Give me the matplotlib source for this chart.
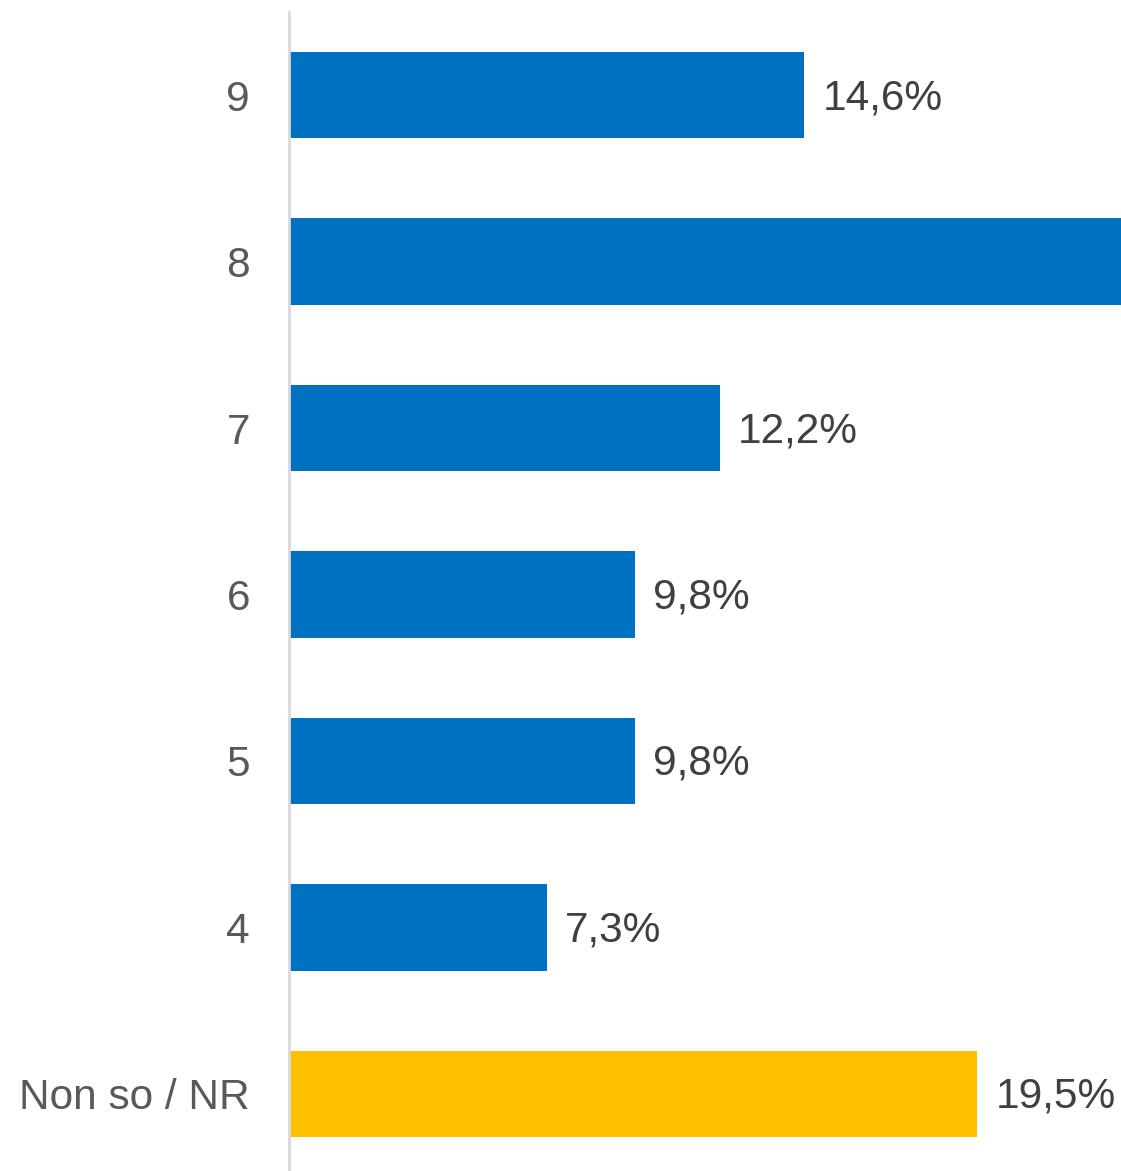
import matplotlib
matplotlib.use("Agg")
import matplotlib.pyplot as plt

categories = ["9", "8", "7", "6", "5", "4", "Non so / NR"]
values = [14.6, 26.8, 12.2, 9.8, 9.8, 7.3, 19.5]
labels = ["14,6%", "26,8%", "12,2%", "9,8%", "9,8%", "7,3%", "19,5%"]
colors = ["#0070C0"] * 6 + ["#FFC000"]

plt.rcParams['font.family'] = ['Liberation Sans', 'DejaVu Sans']

W, H = 1121, 1171
fig = plt.figure(figsize=(W / 100, H / 100), dpi=100)
ax_left = 289 / W
ax_top = 1 - 12 / H
ax_bottom = 1 - 1177 / H
ax = fig.add_axes([ax_left, ax_bottom, 1 - ax_left, ax_top - ax_bottom])

n = len(categories)
pos = list(range(n))
ax.barh(pos, values, height=0.52, color=colors)
ax.set_ylim(n - 0.5, -0.5)
ax.set_xlim(0, (W - 289) / 35.3)

for p, v, lab in zip(pos, values, labels):
    ax.annotate(lab, xy=(v, p), xytext=(18, -3), textcoords="offset pixels",
                ha="left", va="center", fontsize=30.5, color="#404040",
                annotation_clip=True)

ax.set_yticks(pos)
ax.set_yticklabels(categories, fontsize=30.5, color="#595959")
ax.tick_params(axis="y", length=0, pad=28)
ax.set_xticks([])
for s in ["top", "right", "bottom"]:
    ax.spines[s].set_visible(False)
ax.spines["left"].set_color("#D9D9D9")
ax.spines["left"].set_linewidth(2)

fig.savefig("out.png", dpi=100)
